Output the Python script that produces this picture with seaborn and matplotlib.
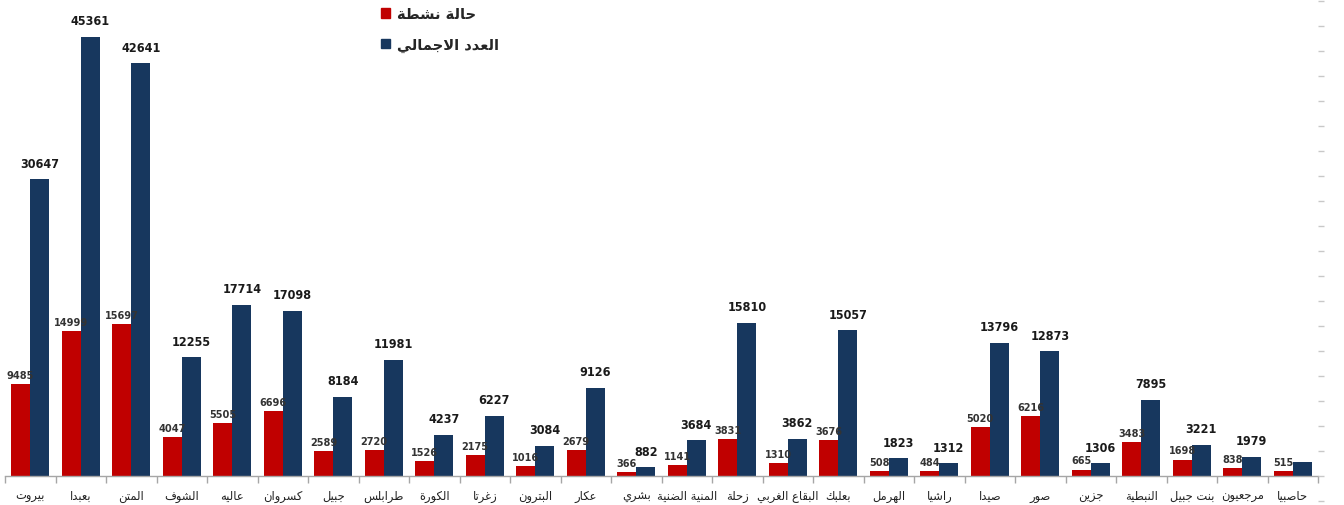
import matplotlib
matplotlib.use("Agg")
import matplotlib.pyplot as plt
import seaborn as sns
import pandas as pd
from matplotlib.ticker import MultipleLocator, FixedLocator

# بيانات الأقضية (من اليسار إلى اليمين)
aqdiya = ['بيروت', 'بعبدا', 'المتن', 'الشوف', 'عاليه', 'كسروان', 'جبيل', 'طرابلس',
          'الكورة', 'زغرتا', 'البترون', 'عكار', 'بشري', 'المنية الضنية', 'زحلة',
          'البقاع الغربي', 'بعلبك', 'الهرمل', 'راشيا', 'صيدا', 'صور', 'جزين',
          'النبطية', 'بنت جبيل', 'مرجعيون', 'حاصبيا']
active_cases = [9485, 14999, 15697, 4047, 5505, 6696, 2589, 2720, 1526, 2175, 1016,
                2679, 366, 1141, 3831, 1310, 3676, 508, 484, 5020, 6216, 665, 3483,
                1698, 838, 515]
total_cases = [30647, 45361, 42641, 12255, 17714, 17098, 8184, 11981, 4237, 6227, 3084,
               9126, 882, 3684, 15810, 3862, 15057, 1823, 1312, 13796, 12873, 1306,
               7895, 3221, 1979, 1450]
series_names = ['حالة نشطة', 'العدد الاجمالي']
colors = ['#C00000', '#17375E']

# --- تشكيل الحروف العربية يدوياً (matplotlib لا يقوم بذلك) ---
FORMS = {
    'ء': ('\uFE80',), 'آ': ('\uFE81', '\uFE82'), 'أ': ('\uFE83', '\uFE84'),
    'ؤ': ('\uFE85', '\uFE86'), 'إ': ('\uFE87', '\uFE88'),
    'ئ': ('\uFE89', '\uFE8A', '\uFE8B', '\uFE8C'), 'ا': ('\uFE8D', '\uFE8E'),
    'ب': ('\uFE8F', '\uFE90', '\uFE91', '\uFE92'), 'ة': ('\uFE93', '\uFE94'),
    'ت': ('\uFE95', '\uFE96', '\uFE97', '\uFE98'), 'ث': ('\uFE99', '\uFE9A', '\uFE9B', '\uFE9C'),
    'ج': ('\uFE9D', '\uFE9E', '\uFE9F', '\uFEA0'), 'ح': ('\uFEA1', '\uFEA2', '\uFEA3', '\uFEA4'),
    'خ': ('\uFEA5', '\uFEA6', '\uFEA7', '\uFEA8'), 'د': ('\uFEA9', '\uFEAA'),
    'ذ': ('\uFEAB', '\uFEAC'), 'ر': ('\uFEAD', '\uFEAE'), 'ز': ('\uFEAF', '\uFEB0'),
    'س': ('\uFEB1', '\uFEB2', '\uFEB3', '\uFEB4'), 'ش': ('\uFEB5', '\uFEB6', '\uFEB7', '\uFEB8'),
    'ص': ('\uFEB9', '\uFEBA', '\uFEBB', '\uFEBC'), 'ض': ('\uFEBD', '\uFEBE', '\uFEBF', '\uFEC0'),
    'ط': ('\uFEC1', '\uFEC2', '\uFEC3', '\uFEC4'), 'ظ': ('\uFEC5', '\uFEC6', '\uFEC7', '\uFEC8'),
    'ع': ('\uFEC9', '\uFECA', '\uFECB', '\uFECC'), 'غ': ('\uFECD', '\uFECE', '\uFECF', '\uFED0'),
    'ف': ('\uFED1', '\uFED2', '\uFED3', '\uFED4'), 'ق': ('\uFED5', '\uFED6', '\uFED7', '\uFED8'),
    'ك': ('\uFED9', '\uFEDA', '\uFEDB', '\uFEDC'), 'ل': ('\uFEDD', '\uFEDE', '\uFEDF', '\uFEE0'),
    'م': ('\uFEE1', '\uFEE2', '\uFEE3', '\uFEE4'), 'ن': ('\uFEE5', '\uFEE6', '\uFEE7', '\uFEE8'),
    'ه': ('\uFEE9', '\uFEEA', '\uFEEB', '\uFEEC'), 'و': ('\uFEED', '\uFEEE'),
    'ى': ('\uFEEF', '\uFEF0'), 'ي': ('\uFEF1', '\uFEF2', '\uFEF3', '\uFEF4'),
}
LAM_ALEF = {'ا': ('\uFEFB', '\uFEFC'), 'أ': ('\uFEF7', '\uFEF8'),
            'إ': ('\uFEF9', '\uFEFA'), 'آ': ('\uFEF5', '\uFEF6')}


def dual(c):
    return c in FORMS and len(FORMS[c]) == 4


def arabic(text):
    out = []
    i = 0
    n = len(text)
    while i < n:
        c = text[i]
        if c not in FORMS:
            out.append(c)
            i += 1
            continue
        prev = text[i - 1] if i > 0 else ''
        joins_prev = dual(prev)
        if c == 'ل' and i + 1 < n and text[i + 1] in LAM_ALEF:
            out.append(LAM_ALEF[text[i + 1]][1 if joins_prev else 0])
            i += 2
            continue
        nxt = text[i + 1] if i + 1 < n else ''
        joins_next = dual(c) and nxt in FORMS
        f = FORMS[c]
        if joins_prev and joins_next:
            out.append(f[3])
        elif joins_prev:
            out.append(f[1] if len(f) > 1 else f[0])
        elif joins_next:
            out.append(f[2])
        else:
            out.append(f[0])
        i += 1
    return ''.join(out)[::-1]


df = pd.DataFrame({
    'qada': aqdiya * 2,
    'series': [series_names[0]] * len(aqdiya) + [series_names[1]] * len(aqdiya),
    'value': active_cases + total_cases,
})

sns.set_theme(style="white")
plt.rcParams['font.family'] = ['DejaVu Sans']

fig = plt.figure(figsize=(13.44, 5.06), dpi=100)
ax = fig.add_axes([5 / 1344, 0, 1313 / 1344, 1])

sns.barplot(data=df, x='qada', y='value', hue='series', hue_order=series_names,
            palette=colors, width=0.76, gap=0, saturation=1, ax=ax,
            edgecolor='none', legend=False)

ax.set_xlim(-0.5, len(aqdiya) - 0.5)
ax.set_ylim(-2996, 49300)
ax.set_xlabel('')
ax.set_ylabel('')
ax.set_yticks([])

for s in ['top', 'left', 'right']:
    ax.spines[s].set_visible(False)
ax.spines['bottom'].set_position(('data', 0))
ax.spines['bottom'].set_color('#A6A6A6')
ax.spines['bottom'].set_linewidth(1.0)

ax.set_xticks(range(len(aqdiya)))
ax.set_xticklabels([arabic(a) for a in aqdiya], fontsize=8.3, color='#222222')
ax.xaxis.set_minor_locator(FixedLocator([i - 0.5 for i in range(len(aqdiya) + 1)]))
ax.tick_params(axis='x', which='major', length=0, pad=9)
ax.tick_params(axis='x', which='minor', length=5, color='#A6A6A6', width=1, bottom=True)

# قيم الأعمدة
red_c, blue_c = ax.containers[0], ax.containers[1]
ax.bar_label(red_c, labels=[str(v) for v in active_cases], padding=3,
             fontsize=7.8, family='DejaVu Sans', fontstretch='condensed',
             fontweight='bold', color='#333333')
ax.bar_label(blue_c, labels=[str(v) for v in total_cases[:-1]] + [''], padding=7,
             fontsize=9, family='DejaVu Sans', fontstretch='condensed',
             fontweight='bold', color='#1a1a1a')

# محور يمين بعلامات فقط
ax2 = ax.twinx()
ax2.set_ylim(-1.16, 19.08)
ax2.yaxis.set_major_locator(MultipleLocator(1))
ax2.set_yticklabels([])
for s in ['top', 'left', 'right', 'bottom']:
    ax2.spines[s].set_visible(False)
ax2.tick_params(axis='y', right=True, left=False, length=4, color='#C8C8C8', width=1,
                direction='out', pad=6)

# وسيلة الإيضاح
handles = [plt.Rectangle((0, 0), 1, 1, color=c) for c in colors]
leg = fig.legend(handles, [arabic(s) for s in series_names], loc='upper left',
                 bbox_to_anchor=(368 / 1344, 1.012), frameon=False, handlelength=0.6,
                 handleheight=0.6, handletextpad=0.5, labelspacing=1.05,
                 prop={'family': 'DejaVu Sans', 'weight': 'bold', 'size': 10.5})

fig.savefig('out.png', dpi=100)
